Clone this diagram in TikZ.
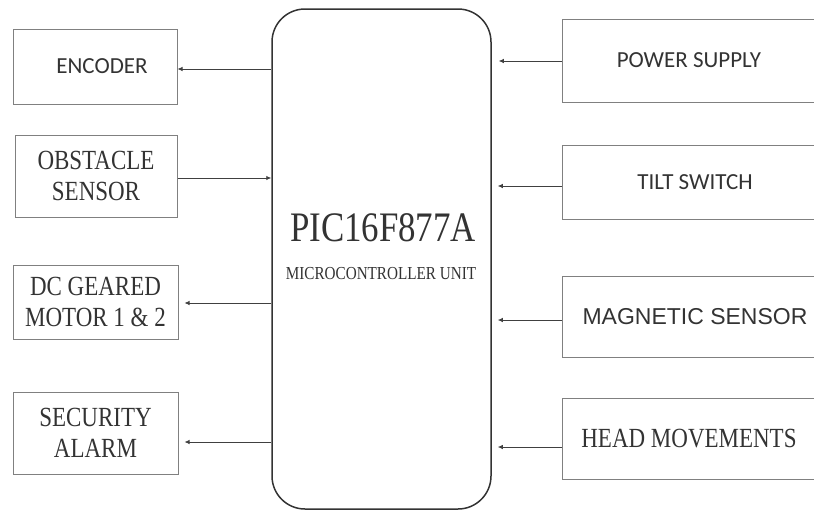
\documentclass[tikz,border=0pt]{standalone}
\usepackage{fontspec}
\setmainfont{Liberation Serif}
\newfontfamily\tallserif[FakeStretch=0.83]{Liberation Serif}
\newfontfamily\calib{Carlito}
\newfontfamily\arialish{Liberation Sans}
\usetikzlibrary{arrows.meta}
\begin{document}
\begin{tikzpicture}[x=1pt,y=-1pt, text=black!80,
  blk/.style={draw=black!50,line width=1pt,inner sep=0pt,align=center},
  serif/.style={font=\tallserif\fontsize{27.7}{31}\selectfont},
  calfont/.style={font=\calib\fontsize{23}{27}\selectfont},
  sigin/.style={draw=black!75,line width=0.8pt,-{Latex[length=5pt,width=4.5pt]}},
  sigout/.style={draw=black!75,line width=0.8pt,{Latex[length=5pt,width=4.5pt]}-}]
\useasboundingbox (0,0) rectangle (814,512);
% microcontroller
\node[draw=black!80,line width=1.5pt,rounded corners=33pt,minimum width=219pt,minimum height=500pt] (mcu) at (381.5,259) {};
\node[font=\tallserif\fontsize{42}{46}\selectfont] (pic) at (383,228) {PIC16F877A};
\node[font=\tallserif\fontsize{18.3}{20}\selectfont] (mcuname) at (381,274) {MICROCONTROLLER UNIT};
% left blocks
\node[blk,calfont,minimum width=164pt,minimum height=75pt] (enc) at (95,66.5) {\hspace{14pt}ENCODER};
\node[blk,serif,minimum width=162pt,minimum height=82pt] (obs) at (96,176) {OBSTACLE\\SENSOR};
\node[blk,serif,minimum width=165pt,minimum height=74pt] (dcm) at (95.5,302) {DC GEARED\\MOTOR 1 \& 2};
\node[blk,serif,minimum width=165pt,minimum height=82pt] (alarm) at (95.5,433) {SECURITY\\ALARM};
% right blocks
\node[blk,calfont,minimum width=254pt,minimum height=83pt] (psu) at (689,60.5) {POWER SUPPLY};
\node[blk,calfont,minimum width=254pt,minimum height=74pt] (tilt) at (689,182) {\hspace{12pt}TILT SWITCH};
\node[blk,font=\arialish\fontsize{23}{27}\selectfont,minimum width=254pt,minimum height=81pt] (mag) at (689,316.5) {\hspace{12pt}MAGNETIC SENSOR};
\node[blk,serif,minimum width=254pt,minimum height=81pt] (head) at (689,438.5) {\raisebox{-4pt}{HEAD MOVEMENTS}};
% signals
\draw[sigout] ([yshift=-2.5pt]enc.east) coordinate (a1) -- (a1 -| mcu.west);
\draw[sigin] ([yshift=-2pt]obs.east) coordinate (a2) -- (a2 -| mcu.west);
\draw[sigout,shorten <=6pt] ([yshift=-1pt]dcm.east) coordinate (a3) -- (a3 -| mcu.west);
\draw[sigout,shorten <=6pt] ([yshift=-9pt]alarm.east) coordinate (a4) -- (a4 -| mcu.west);
\draw[sigin,shorten >=7pt] ([yshift=-0.5pt]psu.west) coordinate (b1) -- (b1 -| mcu.east);
\draw[sigin,shorten >=6pt] ([yshift=-4pt]tilt.west) coordinate (b2) -- (b2 -| mcu.east);
\draw[sigin,shorten >=6pt] ([yshift=-3.5pt]mag.west) coordinate (b3) -- (b3 -| mcu.east);
\draw[sigin,shorten >=6pt] ([yshift=-8.5pt]head.west) coordinate (b4) -- (b4 -| mcu.east);
\end{tikzpicture}
\end{document}
